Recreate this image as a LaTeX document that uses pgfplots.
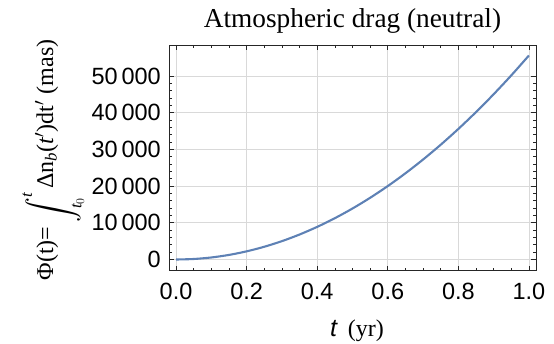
\documentclass[border=0pt]{standalone}
\usepackage{fix-cm}
\usepackage{amsmath}
\usepackage{fontspec}
\setmainfont{Liberation Serif}
\setsansfont{Liberation Sans}
\usepackage{pgfplots}
\pgfplotsset{compat=1.18}
\definecolor{mblue}{rgb}{0.368,0.507,0.71}
\newcommand\tickfont{\fontsize{23.5}{28}\sffamily\selectfont}
\newcommand\labfont{\fontsize{24}{28}\rmfamily\selectfont}
\pgfplotstableread{
t phi
0.00 0
0.05 139
0.10 556
0.15 1251
0.20 2224
0.25 3475
0.30 5004
0.35 6811
0.40 8896
0.45 11259
0.50 13900
0.55 16819
0.60 20016
0.65 23491
0.70 27244
0.75 31275
0.80 35584
0.85 40171
0.90 45036
0.95 50179
1.00 55600
}\drag
\begin{document}
\begin{tikzpicture}[x=1pt,y=1pt]
\useasboundingbox (0,0) rectangle (554,343);
\begin{axis}[
  at={(169pt,72.3pt)}, anchor=south west,
  width=367pt, height=225.7pt, scale only axis,
  xmin=-0.02, xmax=1.02, ymin=-3050, ymax=58450,
  scaled y ticks=false, scaled x ticks=false,
  xtick={0,0.2,0.4,0.6,0.8,1}, xticklabels={0.0,0.2,0.4,0.6,0.8,1.0},
  ytick={0,10000,20000,30000,40000,50000},
  yticklabels={0,10\,000,20\,000,30\,000,40\,000,50\,000},
  minor x tick num=3, minor y tick num=4,
  tick align=inside, major tick length=5pt, minor tick length=3pt,
  grid=major, major grid style={black!15, line width=0.8pt},
  axis line style={black!85, line width=0.8pt},
  tick style={black!85, line width=0.7pt},
  xticklabel style={font=\tickfont, inner sep=0pt, anchor=north, yshift=-12.5pt},
  yticklabel style={font=\tickfont, inner sep=0pt, anchor=east, xshift=-8pt},
]
\addplot[mblue, line width=2.1pt, smooth] table[x=t, y=phi] {\drag};
\end{axis}
\node[anchor=base, font=\fontsize{27.3}{32}\rmfamily\selectfont, inner sep=0pt] at (352.5,315) {Atmospheric drag (neutral)};
\node[anchor=base, font=\labfont, inner sep=0pt] at (357,7) {{\sffamily\itshape\fontsize{25}{28}\selectfont t}\hspace{11pt}(yr)};
\node[anchor=base, font=\labfont, inner sep=0pt, rotate=90] at (53,183) {Φ(t)=\,\raisebox{-6pt}{$\displaystyle\int_{\textit{t}_0}^{\textit{t}}$}\,Δn$_{\textit{b}}$(\textit{t}$^{\prime}$)dt$^{\prime}$ (mas)};
\end{tikzpicture}
\end{document}
